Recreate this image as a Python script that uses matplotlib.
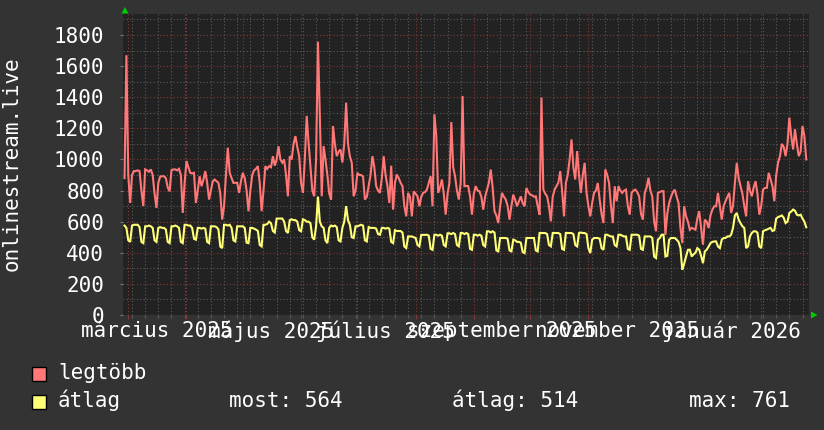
import datetime as dt
import matplotlib
matplotlib.use('Agg')
import matplotlib.pyplot as plt
import matplotlib.dates as mdates
from matplotlib.patches import Rectangle, Polygon
from matplotlib.ticker import MultipleLocator
import matplotlib.transforms as mtransforms

# ---------------- data ----------------
start_date = dt.datetime(2025, 2, 27)

# daily maximum ("legtöbb"), one line per week
max_values = [
    880, 1670, 900, 720, 900, 925, 925,
    930, 925, 800, 700, 936, 930, 920,
    936, 900, 780, 688, 850, 890, 892,
    892, 880, 820, 795, 930, 936, 936,
    930, 940, 900, 656, 850, 990, 950,
    914, 910, 914, 720, 800, 892, 828,
    870, 925, 850, 742, 800, 860, 871,
    860, 850, 780, 613, 700, 900, 1075,
    914, 880, 849, 850, 849, 785, 860,
    914, 880, 800, 667, 800, 900, 930,
    940, 957, 850, 667, 800, 957, 940,
    957, 950, 1021, 960, 1000, 1085, 1000,
    979, 1000, 900, 763, 1021, 1000, 1100,
    1150, 1080, 1021, 850, 785, 1000, 1280,
    1107, 950, 800, 763, 1000, 1757, 1280,
    763, 1086, 1000, 900, 780, 742, 1215,
    1100, 1021, 1050, 1064, 980, 1100, 1365,
    1100, 1020, 979, 763, 800, 914, 900,
    900, 890, 742, 760, 828, 900, 1021,
    950, 828, 800, 785, 880, 1021, 900,
    828, 720, 960, 677, 850, 903, 880,
    850, 828, 700, 634, 785, 760, 634,
    795, 780, 763, 699, 760, 785, 790,
    806, 850, 892, 699, 1290, 1150, 785,
    820, 871, 780, 645, 780, 849, 1240,
    950, 892, 800, 742, 850, 1408, 828,
    830, 828, 760, 645, 780, 828, 800,
    795, 760, 677, 760, 806, 850, 935,
    820, 667, 640, 591, 700, 785, 760,
    742, 700, 613, 700, 774, 740, 699,
    730, 763, 720, 699, 817, 790, 774,
    770, 760, 763, 700, 645, 1398, 806,
    780, 763, 700, 602, 760, 806, 828,
    850, 925, 800, 634, 849, 900, 1000,
    1129, 950, 871, 1054, 900, 785, 900,
    978, 785, 700, 634, 720, 785, 800,
    849, 742, 650, 591, 936, 900, 849,
    700, 591, 828, 731, 828, 800, 785,
    800, 806, 700, 645, 785, 800, 806,
    790, 763, 650, 613, 785, 820, 882,
    800, 763, 600, 538, 785, 790, 796,
    796, 516, 650, 720, 760, 790, 806,
    760, 720, 560, 462, 699, 634, 600,
    548, 560, 555, 548, 620, 667, 560,
    452, 613, 600, 559, 640, 677, 699,
    699, 785, 700, 613, 700, 731, 760,
    785, 656, 700, 850, 978, 880, 828,
    780, 700, 634, 860, 800, 763, 820,
    860, 780, 645, 700, 806, 817, 817,
    914, 870, 828, 731, 900, 980, 1021,
    1100, 1080, 1021, 1100, 1269, 1150, 1064,
    1194, 1100, 1021, 1050, 1215, 1150, 1000,
]

# daily average ("átlag"), one line per week
avg_values = [
    575, 560, 480, 470, 575, 580, 580,
    580, 565, 470, 462, 570, 570, 575,
    570, 560, 480, 470, 560, 565, 560,
    560, 550, 470, 462, 570, 570, 575,
    570, 560, 470, 462, 580, 580, 575,
    575, 560, 490, 484, 560, 560, 555,
    560, 555, 470, 462, 570, 570, 570,
    565, 550, 440, 430, 580, 580, 575,
    580, 560, 480, 473, 570, 570, 570,
    570, 560, 465, 462, 560, 560, 555,
    549, 540, 450, 441, 580, 580, 585,
    600, 590, 540, 530, 620, 620, 620,
    620, 600, 540, 527, 610, 615, 610,
    610, 600, 545, 538, 615, 610, 600,
    600, 590, 500, 484, 570, 761, 600,
    570, 560, 480, 462, 560, 575, 570,
    575, 565, 480, 473, 560, 600, 700,
    610, 580, 500, 495, 570, 570, 575,
    580, 575, 480, 473, 565, 560, 560,
    560, 555, 520, 516, 560, 560, 555,
    560, 555, 470, 462, 545, 540, 540,
    540, 530, 440, 430, 505, 505, 505,
    500, 495, 450, 441, 515, 515, 515,
    516, 510, 425, 419, 516, 516, 510,
    516, 510, 450, 441, 525, 525, 520,
    527, 520, 450, 441, 527, 527, 520,
    527, 520, 425, 419, 516, 516, 510,
    516, 510, 450, 441, 538, 538, 530,
    538, 530, 415, 409, 495, 495, 495,
    495, 490, 415, 409, 484, 480, 470,
    470, 465, 405, 398, 495, 495, 495,
    495, 495, 415, 409, 527, 527, 527,
    527, 520, 450, 441, 527, 527, 527,
    527, 520, 425, 419, 527, 527, 527,
    527, 520, 450, 441, 527, 530, 527,
    527, 520, 430, 398, 484, 495, 495,
    495, 490, 430, 419, 516, 516, 510,
    505, 505, 450, 441, 516, 516, 510,
    505, 505, 425, 419, 516, 516, 516,
    516, 510, 425, 419, 505, 505, 505,
    505, 495, 375, 366, 484, 495, 516,
    516, 376, 380, 484, 495, 495, 495,
    484, 470, 430, 290, 330, 376, 419,
    420, 376, 390, 400, 430, 420, 380,
    333, 409, 420, 440, 462, 470, 473,
    473, 440, 430, 484, 495, 495, 505,
    505, 516, 560, 640, 656, 613, 590,
    570, 560, 430, 441, 505, 527, 538,
    538, 530, 441, 430, 538, 545, 549,
    555, 560, 540, 545, 620, 630, 634,
    640, 625, 591, 600, 656, 665, 678,
    670, 645, 640, 645, 620, 600, 564,
]

month_labels = ['március 2025', 'május 2025', 'július 2025',
                'szeptember 2025', 'november 2025', 'január 2026']
month_label_dates = [dt.datetime(2025, 3, 16), dt.datetime(2025, 5, 16),
                     dt.datetime(2025, 7, 16), dt.datetime(2025, 9, 16),
                     dt.datetime(2025, 11, 16), dt.datetime(2026, 1, 16)]
legend_names = ['legtöbb', 'átlag']
stat_labels = ['most: 564', 'átlag: 514', 'max: 761']
y_label = 'onlinestream.live'

dates = [start_date + dt.timedelta(days=i) for i in range(len(max_values))]

# ---------------- style ----------------
W, H = 824, 430
BG = '#333333'
CANVAS = '#222222'
RED = '#ff7777'
YEL = '#ffff77'
MONO = 'DejaVu Sans Mono'
FS = 15

fig = plt.figure(figsize=(W / 100, H / 100), dpi=100, facecolor=BG)
ax = fig.add_axes([123.5 / W, 1 - 315 / H, (809 - 123.5) / W, 301 / H])
ax.set_facecolor(CANVAS)
for s in ax.spines.values():
    s.set_visible(False)

ax.set_xlim(dt.datetime(2025, 2, 26, 11), dt.datetime(2026, 2, 26, 11))
ax.set_ylim(0, 1935)

ax.xaxis.set_major_locator(mdates.MonthLocator())
ax.xaxis.set_minor_locator(mdates.WeekdayLocator(byweekday=mdates.MO))
ax.yaxis.set_major_locator(MultipleLocator(200))
ax.yaxis.set_minor_locator(MultipleLocator(100))

ax.grid(which='minor', color='#5c5c5c', linestyle=(0, (1, 2)), lw=0.8)
ax.grid(which='major', color='#8a3535', linestyle=(0, (1, 2)), lw=0.8)
ax.set_axisbelow(True)

ax.set_xticklabels([])
ax.tick_params(axis='x', which='major', length=3, color='#8a3535', width=0.8)
ax.tick_params(axis='x', which='minor', length=2, color='#5c5c5c', width=0.8)
ax.tick_params(axis='y', which='major', length=2, color='#777777', width=0.8,
               labelsize=FS, labelcolor='white', pad=12)
ax.tick_params(axis='y', which='minor', length=0)
for lab in ax.get_yticklabels():
    lab.set_family(MONO)
ax.yaxis.set_major_formatter(matplotlib.ticker.FuncFormatter(lambda v, p: f'{int(v)}'))

ax.plot(dates, max_values, color=RED, lw=1.5, solid_joinstyle='miter', zorder=3)
ax.plot(dates, avg_values, color=YEL, lw=1.5, solid_joinstyle='miter', zorder=4)

# month labels (centered mid-month, as rrdtool does)
trans = mtransforms.blended_transform_factory(ax.transData, ax.transAxes)
for d, lab in zip(month_label_dates, month_labels):
    ax.text(d, -16 / 301, lab, transform=trans, ha='center', va='center',
            fontsize=FS, color='white', family=MONO, clip_on=False)

# y-axis title
fig.text(12 / W, 1 - 164 / H, y_label, rotation=90, ha='center', va='center',
         fontsize=FS, color='white', family=MONO)

# arrows
fig.add_artist(Polygon([[121.5 / W, 1 - 13.5 / H], [128.5 / W, 1 - 13.5 / H],
                        [125 / W, 1 - 7 / H]], closed=True,
                       transform=fig.transFigure, color='#00cc00', lw=0))
fig.add_artist(Polygon([[811 / W, 1 - 311.5 / H], [811 / W, 1 - 318.5 / H],
                        [817.5 / W, 1 - 315 / H]], closed=True,
                       transform=fig.transFigure, color='#00cc00', lw=0))

# legend
for i, (name, col) in enumerate(zip(legend_names, [RED, YEL])):
    top = 367 + 28 * i
    fig.add_artist(Rectangle((32 / W, 1 - (top + 14) / H), 14 / W, 14 / H,
                             transform=fig.transFigure, facecolor=col,
                             edgecolor='black', lw=1))
    fig.text(58 / W, 1 - (top + 12) / H, name, ha='left', va='baseline',
             fontsize=FS, color='white', family=MONO)

for x, lab in zip([229, 452, 689], stat_labels):
    fig.text(x / W, 1 - 407 / H, lab, ha='left', va='baseline',
             fontsize=FS, color='white', family=MONO)

fig.savefig('out.png', dpi=100, facecolor=BG)
